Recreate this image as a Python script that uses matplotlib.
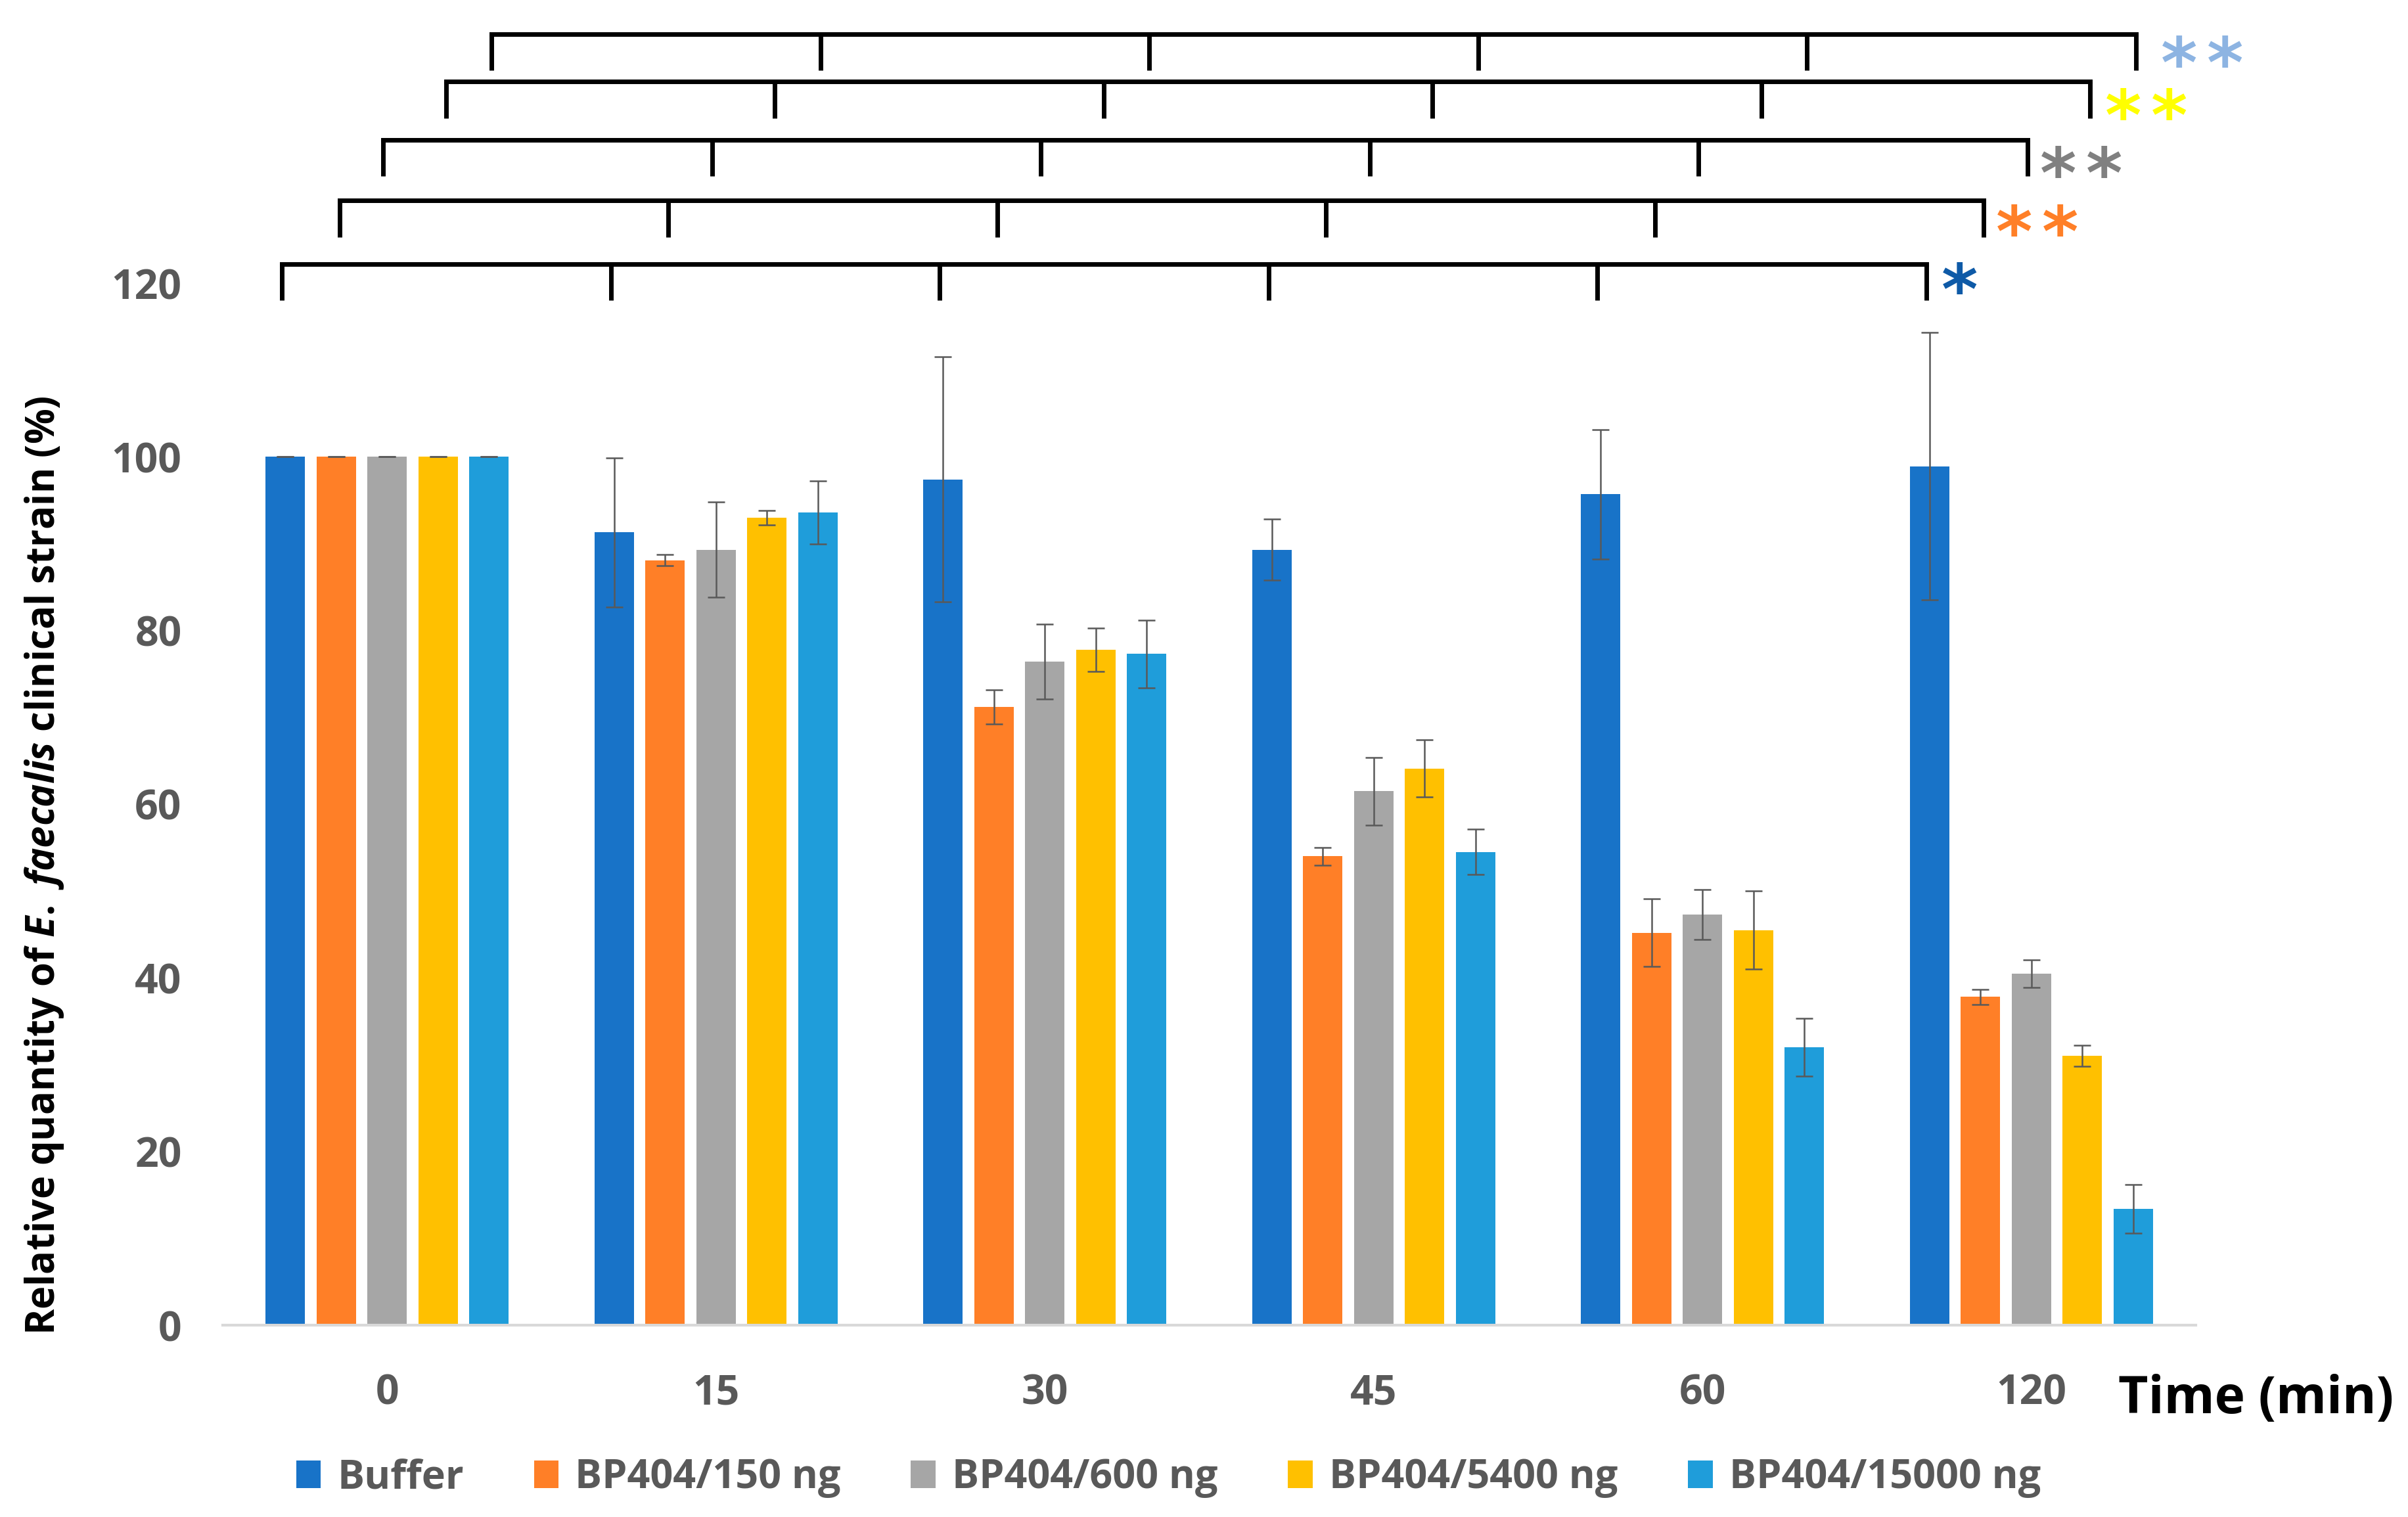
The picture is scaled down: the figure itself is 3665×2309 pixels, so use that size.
import matplotlib
matplotlib.use("Agg")
import matplotlib.pyplot as plt
import numpy as np
from matplotlib.textpath import TextPath
from matplotlib.font_manager import FontProperties
from matplotlib.transforms import offset_copy

# ---------------- data ----------------
categories = ["0", "15", "30", "45", "60", "120"]
series_names = ["Buffer", "BP404/150 ng", "BP404/600 ng", "BP404/5400 ng", "BP404/15000 ng"]
buffer_vals = [100, 91.3, 97.4, 89.3, 95.7, 98.9]
buffer_err = [0, 8.6, 14.1, 3.5, 7.45, 15.4]
bp150_vals = [100, 88.1, 71.2, 54.0, 45.2, 37.8]
bp150_err = [0, 0.65, 2.0, 1.0, 3.9, 0.85]
bp600_vals = [100, 89.3, 76.4, 61.5, 47.3, 40.5]
bp600_err = [0, 5.5, 4.3, 3.9, 2.9, 1.6]
bp5400_vals = [100, 93.0, 77.8, 64.1, 45.5, 31.0]
bp5400_err = [0, 0.85, 2.5, 3.3, 4.5, 1.2]
bp15000_vals = [100, 93.6, 77.3, 54.5, 32.0, 13.4]
bp15000_err = [0, 3.6, 3.9, 2.6, 3.3, 2.8]
star_labels = ["*", "**", "**", "**", "**"]

values = [buffer_vals, bp150_vals, bp600_vals, bp5400_vals, bp15000_vals]
errors = [buffer_err, bp150_err, bp600_err, bp5400_err, bp15000_err]
colors = ["#1873C8", "#FF7F27", "#A6A6A6", "#FFC000", "#1F9DDA"]
star_colors = ["#0E5AA7", "#FF7F27", "#808080", "#FFFF00", "#8DB4E2"]

# ---------------- style ----------------
plt.rcParams["font.family"] = ["Open Sans", "DejaVu Sans"]
plt.rcParams["font.weight"] = "bold"
plt.rcParams["mathtext.fontset"] = "custom"
plt.rcParams["mathtext.it"] = "Open Sans:italic:bold"
plt.rcParams["mathtext.rm"] = "Open Sans:bold"
plt.rcParams["mathtext.bf"] = "Open Sans:bold"

W, H = 3665, 2309
fig = plt.figure(figsize=(W / 100, H / 100), dpi=100)
ax = fig.add_axes([339 / W, 1 - 2017 / H, 3003 / W, (2017 - 431) / H])

x = np.arange(len(categories))
width = 0.12
step = 0.155
bars = []
for i in range(len(series_names)):
    off = (i - 2) * step
    b = ax.bar(x + off, values[i], width, color=colors[i], yerr=errors[i],
               label=series_names[i], zorder=2,
               error_kw=dict(ecolor="#595959", elinewidth=1.8, capsize=9.4,
                             capthick=1.8, zorder=3))
    bars.append(b)

ax.set_xlim(-0.5, 5.5)
ax.set_ylim(0, 120)
ax.set_yticks(np.arange(0, 121, 20))
ax.set_xticks(x)
ax.set_xticklabels(categories)
for s in ["top", "right", "left"]:
    ax.spines[s].set_visible(False)
ax.spines["bottom"].set_color("#D9D9D9")
ax.spines["bottom"].set_linewidth(3)
ax.tick_params(axis="both", length=0, labelsize=45, labelcolor="#595959")
ax.tick_params(axis="y", pad=45)
ax.tick_params(axis="x", pad=52)

# ---------------- significance brackets ----------------
bracket_levels = [122.2, 129.5, 136.5, 143.2, 148.7]
bracket_shift = [-0.01, 0.01, -0.012, 0.024, 0.008]
drop = 4.2
star_y = [120.65, 127.3, 134.0, 140.7, 146.7]
star_dx = [0.102, 0.092, 0.094, 0.100, 0.132]
star_gap = 0.14

fp = FontProperties(family="DejaVu Sans", weight="bold")
tp = TextPath((0, 0), "*", size=100, prop=fp)
ext = tp.get_extents()
ink_h = ext.height / 100.0
star_fs = 35.5 / ink_h
cx = (ext.x0 + ext.x1) / 2 / 100.0 * star_fs
cy = (ext.y0 + ext.y1) / 2 / 100.0 * star_fs
fp_star = fp.copy()
fp_star.set_size(star_fs)
star_tr = offset_copy(ax.transData, fig=fig, x=-cx, y=-cy, units="points")

for k in range(len(series_names)):
    xs = x + (k - 2) * step + bracket_shift[k]
    lev = bracket_levels[k]
    ax.plot([xs[0], xs[-1]], [lev, lev], color="black", lw=5,
            solid_capstyle="projecting", clip_on=False, zorder=4)
    for xi in xs:
        ax.plot([xi, xi], [lev, lev - drop], color="black", lw=5,
                solid_capstyle="butt", clip_on=False, zorder=4)
    for j, ch in enumerate(star_labels[k]):
        sx = xs[-1] + star_dx[k] + j * star_gap
        ax.text(sx, star_y[k], ch, transform=star_tr, ha="left", va="baseline",
                fontproperties=fp_star, color=star_colors[k], clip_on=False)

# ---------------- labels ----------------
fig.text(68 / W, 1 - 1317 / H,
         r"Relative quantity of $\mathit{E.\ faecalis}$ clinical strain (%)",
         rotation=90, ha="center", va="center", fontsize=43, color="black")
fig.text(3224 / W, 1 - 2151 / H, "Time (min)", fontsize=56.5, color="black",
         ha="left", va="baseline")

fig.legend(handles=bars, labels=series_names, loc="center",
           bbox_to_anchor=(0.4852, 0.0257), ncol=5, frameon=False,
           fontsize=44, labelcolor="#595959", handlelength=0.62,
           handleheight=0.69, handletextpad=0.41, columnspacing=1.74)

fig.savefig("out.png", dpi=100)
